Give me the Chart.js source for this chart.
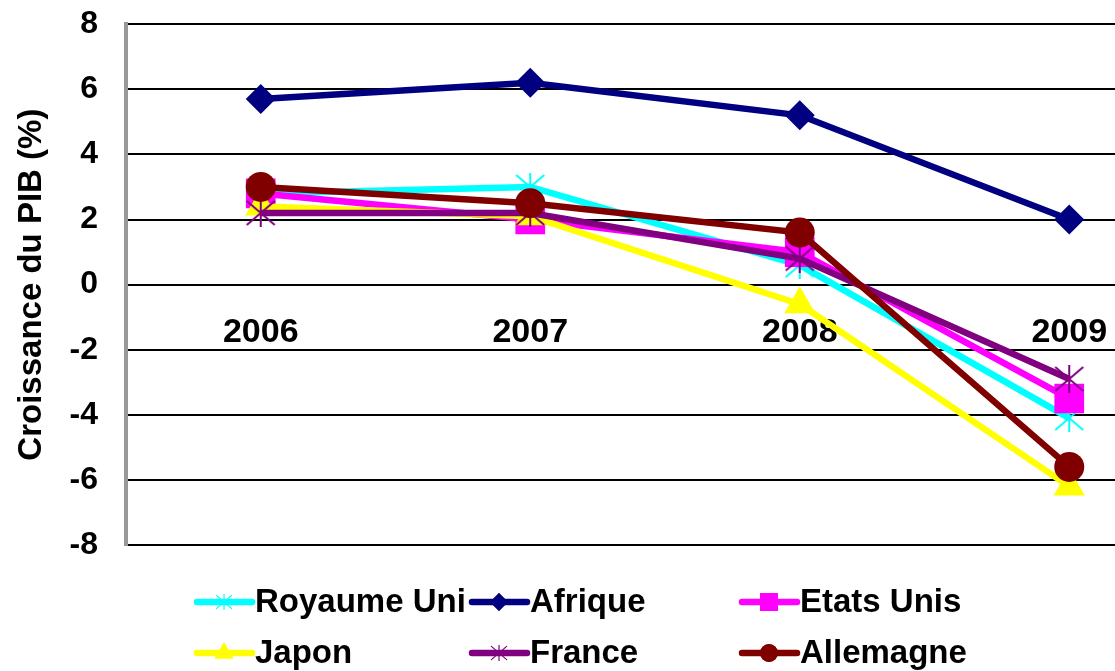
<!DOCTYPE html>
<html>
<head>
<meta charset="utf-8">
<script src="https://cdn.jsdelivr.net/npm/chart.js@4.4.0/dist/chart.umd.min.js"></script>
<style>
  html, body { margin: 0; padding: 0; background: #fff; overflow: hidden; }
  #wrap { width: 1225px; height: 694px; margin-top: -23px; }
</style>
</head>
<body>
<div id="wrap"><canvas id="pib"></canvas></div>
<script>
// Croissance du PIB (%) 2006-2009
const years = ['2006', '2007', '2008', '2009'];
const royaumeUni = [2.8, 3.0, 0.6, -4.1];
const afrique = [5.7, 6.2, 5.2, 2.0];
const etatsUnis = [2.8, 2.0, 1.0, -3.5];
const japon = [2.4, 2.1, -0.6, -6.2];
const france = [2.2, 2.2, 0.8, -2.9];
const allemagne = [3.0, 2.5, 1.6, -5.6];
const yTicks = [-8, -6, -4, -2, 0, 2, 4, 6, 8];

const FONT = "'Liberation Sans', Arial, sans-serif";

// Excel-like star marker (X + vertical bar)
function starMarker(color) {
    var c = document.createElement('canvas');
    c.width = 32; c.height = 28;
    var g = c.getContext('2d');
    g.strokeStyle = color;
    g.lineWidth = 2;
    g.beginPath();
    g.moveTo(2, 2); g.lineTo(30, 26);
    g.moveTo(30, 2); g.lineTo(2, 26);
    g.moveTo(16, 0); g.lineTo(16, 28);
    g.stroke();
    return c;
}

function serie(label, data, color, style, radius, order) {
    return {
        label: label,
        data: data,
        borderColor: color,
        backgroundColor: color,
        borderWidth: 6.5,
        pointStyle: style,
        pointRadius: radius,
        pointHoverRadius: radius,
        pointBorderWidth: 0,
        pointBackgroundColor: color,
        tension: 0,
        order: order
    };
}

const datasets = [
    serie('Royaume Uni', royaumeUni, '#00FFFF', starMarker('#00FFFF'), 15, 6),
    serie('Afrique', afrique, '#000080', 'rectRot', 15, 5),
    serie('Etats Unis', etatsUnis, '#FF00FF', 'rect', 21, 4),
    serie('Japon', japon, '#FFFF00', 'triangle', 18, 3),
    serie('France', france, '#800080', starMarker('#800080'), 15, 2),
    serie('Allemagne', allemagne, '#800000', 'circle', 15, 1)
];

// legend drawn as line + marker, 3 columns x 2 rows (canvas is shifted up 23px)
const legendCols = [197, 472, 742];
const legendRows = [625, 676];
const legendPlugin = {
    id: 'excelLegend',
    afterDraw(chart) {
        const ctx = chart.ctx;
        ctx.save();
        chart.data.datasets.forEach(function (ds, i) {
            const x = legendCols[i % 3];
            const y = legendRows[Math.floor(i / 3)];
            ctx.strokeStyle = ds.borderColor;
            ctx.lineWidth = 6.5;
            ctx.lineCap = 'round';
            ctx.beginPath();
            ctx.moveTo(x, y);
            ctx.lineTo(x + 55, y);
            ctx.stroke();
            ctx.fillStyle = ds.backgroundColor;
            ctx.strokeStyle = ds.borderColor;
            if (typeof ds.pointStyle === 'string') {
                Chart.helpers.drawPoint(ctx, { pointStyle: ds.pointStyle, radius: ds.pointRadius * 0.6, borderWidth: 0 }, x + 27, y);
                ctx.fill();
            } else {
                ctx.drawImage(ds.pointStyle, x + 27 - 9, y - 8, 18, 16);
            }
            ctx.fillStyle = '#000';
            ctx.font = 'bold 33px ' + FONT;
            ctx.textBaseline = 'middle';
            ctx.textAlign = 'left';
            ctx.fillText(ds.label, x + 58, y + 1);
        });
        ctx.restore();
    }
};

var ctx = document.getElementById('pib').getContext('2d');
var myChart = new Chart(ctx, {
    type: 'line',
    data: {
        labels: years,
        datasets: datasets
    },
    options: {
        responsive: true,
        maintainAspectRatio: false,
        animation: false,
        layout: { padding: { top: 0, bottom: 126, left: 0, right: 0 } },
        plugins: {
            legend: { display: false },
            tooltip: { enabled: false }
        },
        scales: {
            x: {
                type: 'category',
                position: { y: 0 },
                offset: true,
                grid: { display: false, drawTicks: false },
                border: { display: false },
                ticks: {
                    color: '#000',
                    font: { family: FONT, size: 34, weight: 'bold' },
                    padding: 28,
                    maxRotation: 0
                },
                afterFit: function (s) { s.height = 0; }
            },
            y: {
                min: -8,
                max: 8,
                afterBuildTicks: function (s) { s.ticks = yTicks.map(function (v) { return { value: v }; }); },
                grid: { color: '#000', lineWidth: 2, drawTicks: false },
                border: { display: true, color: '#999', width: 4 },
                ticks: {
                    color: '#000',
                    font: { family: FONT, size: 32, weight: 'bold' },
                    padding: 28
                },
                title: {
                    display: true,
                    text: 'Croissance du PIB (%)',
                    color: '#000',
                    font: { family: FONT, size: 33, weight: 'bold' },
                    padding: { top: 12, bottom: 0 }
                },
                afterFit: function (s) { s.width = 126; }
            }
        }
    },
    plugins: [legendPlugin]
});
</script>
</body>
</html>
